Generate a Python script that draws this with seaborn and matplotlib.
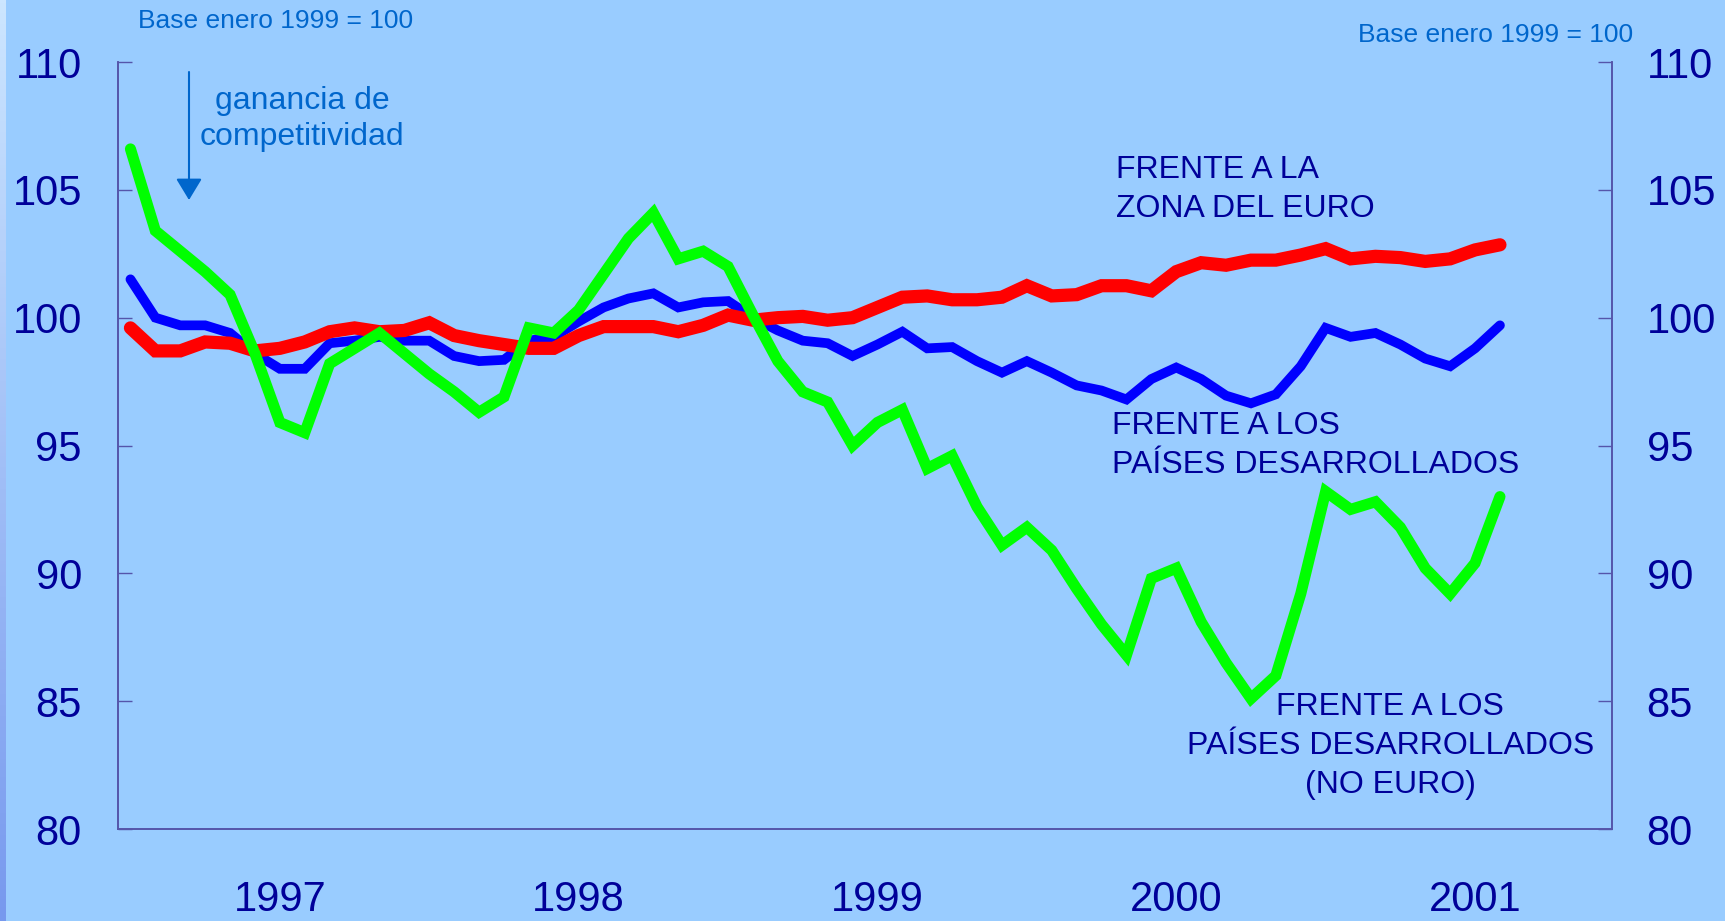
import numpy as np
import pandas as pd
import matplotlib
matplotlib.use('Agg')
import matplotlib.pyplot as plt
import seaborn as sns

# monthly index values, Jan 1997 - Aug 2001 (base enero 1999 = 100)
zona_euro = [99.6, 98.7, 98.7, 99.05, 99.0, 98.7, 98.8, 99.05, 99.45, 99.6,
             99.45, 99.5, 99.8, 99.3, 99.1, 98.95, 98.8, 98.8, 99.3, 99.65,
             99.65, 99.65, 99.45, 99.7, 100.1, 99.9, 100.0, 100.05, 99.9, 100.0,
             100.4, 100.8, 100.85, 100.7, 100.7, 100.8, 101.25, 100.85, 100.9, 101.25,
             101.25, 101.05, 101.8, 102.15, 102.05, 102.25, 102.25, 102.45, 102.7, 102.3,
             102.4, 102.35, 102.2, 102.3, 102.65, 102.85]
desarrollados = [101.5, 100.0, 99.7, 99.7, 99.4, 98.6, 98.0, 98.0, 99.0, 99.1,
                 99.25, 99.1, 99.1, 98.5, 98.3, 98.35, 99.1, 99.25, 99.85, 100.4,
                 100.75, 100.95, 100.4, 100.6, 100.65, 100.0, 99.5, 99.1, 99.0, 98.5,
                 98.95, 99.45, 98.8, 98.85, 98.3, 97.85, 98.3, 97.85, 97.35, 97.15,
                 96.8, 97.6, 98.05, 97.6, 96.95, 96.65, 97.0, 98.1, 99.6, 99.25,
                 99.4, 98.95, 98.4, 98.1, 98.8, 99.7]
no_euro = [106.6, 103.4, 102.6, 101.8, 100.9, 98.6, 95.9, 95.5, 98.2, 98.8,
           99.4, 98.6, 97.8, 97.1, 96.3, 96.9, 99.6, 99.4, 100.3, 101.7,
           103.1, 104.1, 102.3, 102.6, 102.0, 100.1, 98.3, 97.1, 96.7, 95.0,
           95.9, 96.4, 94.1, 94.6, 92.6, 91.1, 91.8, 90.9, 89.4, 88.0,
           86.8, 89.8, 90.2, 88.1, 86.5, 85.1, 86.0, 89.2, 93.2, 92.5,
           92.8, 91.8, 90.2, 89.2, 90.4, 93.0]
years = ['1997', '1998', '1999', '2000', '2001']
y_ticks = [80, 85, 90, 95, 100, 105, 110]

BG = '#99CCFF'
NAVY = '#000099'
LABEL_BLUE = '#0066CC'
AXIS_COLOR = '#5555AA'

df = pd.DataFrame({
    'mes': np.arange(len(zona_euro)) + 0.5,
    'zona_euro': zona_euro,
    'desarrollados': desarrollados,
    'no_euro': no_euro,
})

sns.set_style('white')
plt.rcParams['font.family'] = ['Liberation Sans', 'DejaVu Sans']

fig = plt.figure(figsize=(17.25, 9.21), dpi=100, facecolor=BG)
ax = fig.add_axes([118 / 1725, 1 - 829 / 921, (1612 - 118) / 1725, (829 - 62) / 921])
ax.set_facecolor(BG)

# gradient strip on the left edge
strip = fig.add_axes([0, 0, 6 / 1725, 1])
grad = np.linspace(0, 1, 256).reshape(-1, 1)
strip.imshow(grad, aspect='auto', cmap=matplotlib.colors.LinearSegmentedColormap.from_list(
    'strip', ['#CCE6FF', '#7799EE']), extent=[0, 1, 0, 1])
strip.axis('off')

sns.lineplot(data=df, x='mes', y='desarrollados', ax=ax, color='#0000FF',
             linewidth=7.0, zorder=3)
sns.lineplot(data=df, x='mes', y='zona_euro', ax=ax, color='#FF0000',
             linewidth=9.5, zorder=4)
sns.lineplot(data=df, x='mes', y='no_euro', ax=ax, color='#00FF00',
             linewidth=8.0, zorder=5)
for line in ax.lines:
    line.set_solid_joinstyle('miter')

ax.set_xlim(0, 60)
ax.set_ylim(80, 110)
ax.set_xlabel('')
ax.set_ylabel('')

# year boundaries as major ticks, year names centred at minor ticks
ax.set_xticks(np.arange(0, 61, 12))
ax.set_xticklabels([])
ax.set_xticks(np.arange(len(years)) * 12 + 6.5, minor=True)
ax.set_xticklabels(years, minor=True)
ax.tick_params(axis='x', which='major', direction='in', length=10,
               width=1, color=AXIS_COLOR)
ax.tick_params(axis='x', which='minor', length=0, pad=37,
               labelsize=30, labelcolor=NAVY)

ax.set_yticks(y_ticks)
ax.tick_params(axis='y', direction='in', length=10, width=1,
               color=AXIS_COLOR, pad=26, labelsize=30, labelcolor=NAVY)

ax2 = ax.twinx()
ax2.set_ylim(80, 110)
ax2.set_yticks(y_ticks)
ax2.tick_params(axis='y', direction='in', length=10, width=1,
                color=AXIS_COLOR, pad=25, labelsize=30, labelcolor=NAVY)

for a in (ax, ax2):
    a.spines['top'].set_visible(False)
    for side in ('left', 'right', 'bottom'):
        a.spines[side].set_color(AXIS_COLOR)
        a.spines[side].set_linewidth(1.2)

# series labels
ax.text(40.1, 105.0, 'FRENTE A LA\nZONA DEL EURO', color=NAVY, fontsize=23,
        ha='left', va='center', linespacing=1.38, zorder=6)
ax.text(39.9, 95.0, 'FRENTE A LOS\nPAÍSES DESARROLLADOS', color=NAVY,
        fontsize=23, ha='left', va='center', linespacing=1.38, zorder=6)
ax.text(51.1, 83.25, 'FRENTE A LOS\nPAÍSES DESARROLLADOS\n(NO EURO)',
        color=NAVY, fontsize=23, ha='center', va='center',
        multialignment='center', linespacing=1.38, zorder=6)

# notes
fig.text(138 / 1725, 1 - 21 / 921, 'Base enero 1999 = 100', color=LABEL_BLUE,
         fontsize=19, ha='left', va='center')
fig.text(1633 / 1725, 1 - 35 / 921, 'Base enero 1999 = 100', color=LABEL_BLUE,
         fontsize=19, ha='right', va='center')
fig.text(302 / 1725, 1 - 119 / 921, 'ganancia de\ncompetitividad',
         color=LABEL_BLUE, fontsize=23, ha='center', va='center',
         linespacing=1.3)
ax.annotate('', xy=(189 / 1725, 1 - 200 / 921), xycoords='figure fraction',
            xytext=(189 / 1725, 1 - 72 / 921), textcoords='figure fraction',
            arrowprops=dict(arrowstyle='-|>,head_length=0.33,head_width=0.2',
                            color=LABEL_BLUE, lw=1.5, mutation_scale=40,
                            shrinkA=0, shrinkB=0))

fig.savefig('out.png', dpi=100, facecolor=BG)
